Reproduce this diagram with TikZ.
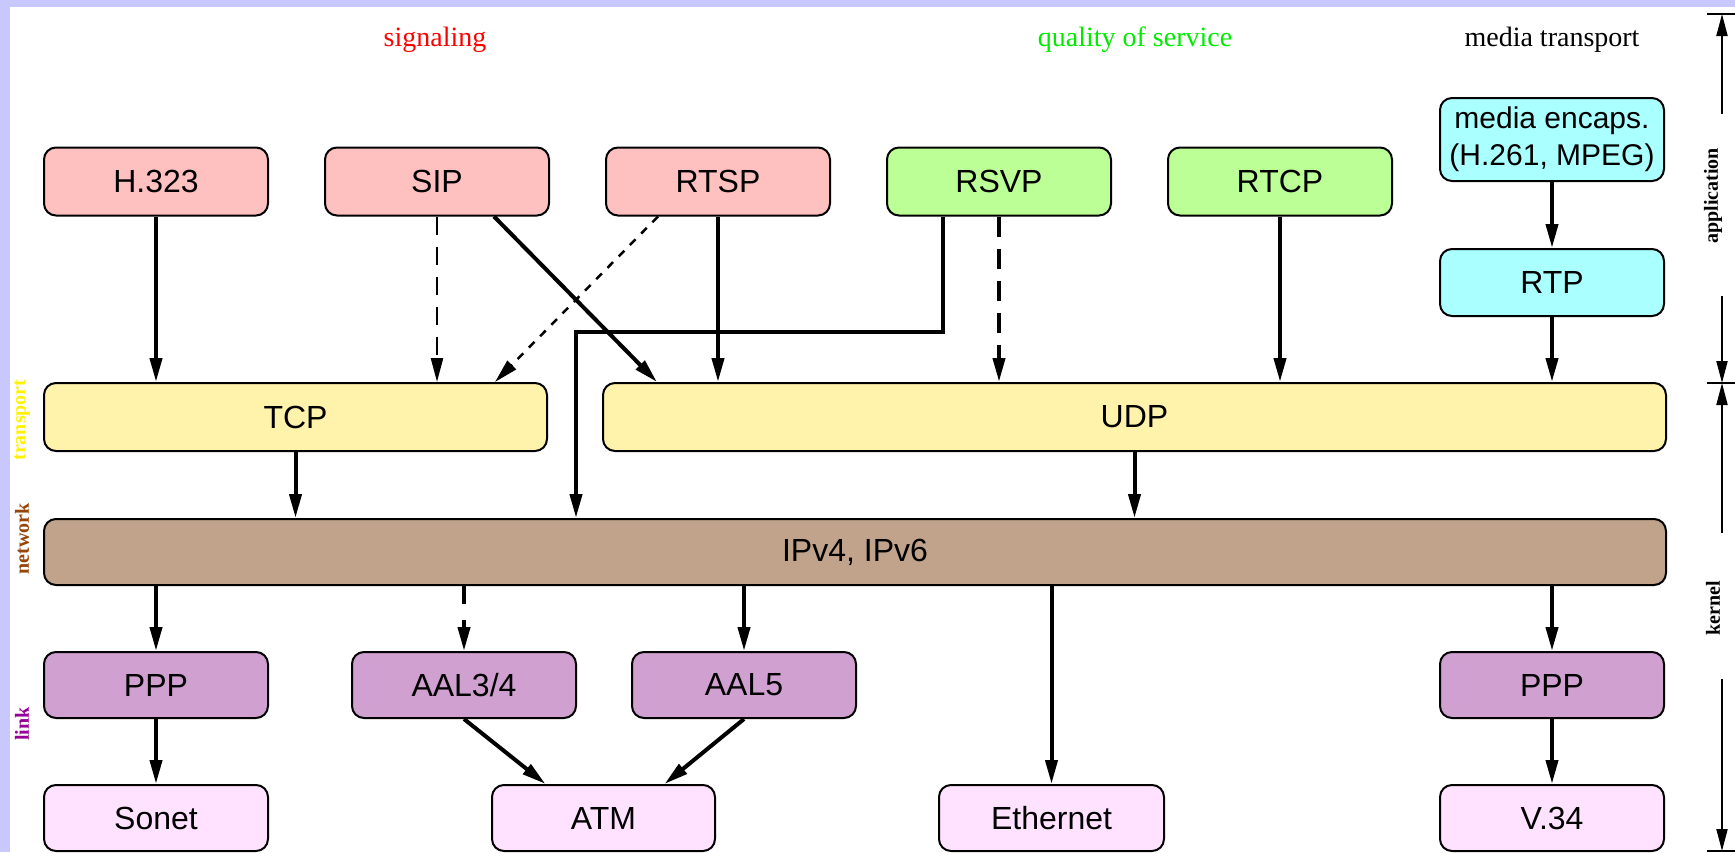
\documentclass[tikz,border=0pt]{standalone}
\usepackage{fontspec}
\setmainfont{Liberation Serif}
\setsansfont{Liberation Sans}
\usepackage{tikz}
\usetikzlibrary{arrows.meta,positioning}

\definecolor{sigfill}{RGB}{255,192,192}
\definecolor{qosfill}{RGB}{188,255,150}
\definecolor{mediafill}{RGB}{170,255,255}
\definecolor{transfill}{RGB}{255,242,170}
\definecolor{netfill}{RGB}{192,163,138}
\definecolor{linkfill}{RGB}{208,160,208}
\definecolor{physfill}{RGB}{255,226,255}
\definecolor{framelav}{RGB}{200,200,255}
\definecolor{nettext}{RGB}{150,70,10}
\definecolor{linktext}{RGB}{150,0,150}
\definecolor{qostext}{RGB}{0,235,0}

\tikzstyle{proto} = [rectangle, rounded corners=12pt, minimum width=224pt, minimum height=68pt, inner sep=0pt, align=center, draw=black, line width=2pt, font=\sffamily\fontsize{32}{37}\selectfont]
\tikzstyle{signal} = [proto, fill=sigfill]
\tikzstyle{qos} = [proto, fill=qosfill]
\tikzstyle{media} = [proto, fill=mediafill]
\tikzstyle{transp} = [proto, fill=transfill]
\tikzstyle{network} = [proto, fill=netfill]
\tikzstyle{linkl} = [proto, fill=linkfill]
\tikzstyle{phys} = [proto, fill=physfill]
\tikzset{
  arrow/.style={line width=4pt, -{Triangle[length=24pt,width=12pt]}},
  dasharrow/.style={arrow, dash pattern=on 20pt off 12pt},
  thindash/.style={line width=2.5pt, dash pattern=on 18pt off 12pt, -{Triangle[length=24pt,width=12pt]}},
  dotarrow/.style={line width=2.5pt, dash pattern=on 8pt off 8pt, -{Triangle[length=24pt,width=12pt]}},
  group/.style={font=\fontsize{28}{28}\selectfont},
  layer/.style={font=\bfseries\fontsize{20}{20}\selectfont, rotate=90},
  dimarrow/.style={line width=2pt, -{Triangle[length=22pt,width=11pt]}},
}

\begin{document}
\begin{tikzpicture}[x=1pt, y=-1pt, node distance=55pt]
\useasboundingbox (0,0) rectangle (1735,852);
\fill[framelav] (0,0) rectangle (1735,852);
\fill[white] (10,7) rectangle (1735,852);

% column headings
\node (hsig) [group, text=red] at (435,40) {signaling};
\node (hqos) [group, text=qostext] at (1135,40) {quality of service};
\node (hmed) [group] at (1552,40) {media transport};

% application row
\node (h323) [signal] at (156,181.5) {H.323};
\node (sip) [signal, right=of h323] {SIP};
\node (rtsp) [signal, right=of sip] {RTSP};
\node (rsvp) [qos, right=of rtsp] {RSVP};
\node (rtcp) [qos, right=of rsvp] {RTCP};
\node (encaps) [media, minimum height=83pt, font=\sffamily\fontsize{30}{37}\selectfont] at (1552,139.5) {media encaps.\\(H.261, MPEG)};
\node (rtp) [media, minimum height=67pt] at (1552,282.5) {RTP};

% transport, network
\node (tcp) [transp, minimum width=503pt] at (295.5,417) {TCP};
\node (udp) [transp, minimum width=1063pt] at (1134.5,417) {UDP};
\node (ip) [network, minimum width=1622pt, minimum height=66pt] at (855,552) {IPv4, IPv6};

% link, physical
\node (pppa) [linkl, minimum height=66pt] at (156,685) {PPP};
\node (aal34) [linkl, minimum height=66pt] at (464,685) {AAL3/4};
\node (aal5) [linkl, minimum height=66pt] at (744,685) {AAL5};
\node (pppb) [linkl, minimum height=66pt] at (1552,685) {PPP};
\node (sonet) [phys, minimum height=66pt] at (156,818) {Sonet};
\node (atm) [phys, minimum height=66pt, minimum width=223pt] at (603.5,818) {ATM};
\node (ether) [phys, minimum height=66pt, minimum width=225pt] at (1051.5,818) {Ethernet};
\node (vtf) [phys, minimum height=66pt] at (1552,818) {V.34};

% layer names
\node (ltrans) [layer, text=yellow] at (22,420) {transport};
\node (lnet) [layer, text=nettext] at (22,539) {network};
\node (llink) [layer, text=linktext] at (22,724) {link};

\draw [arrow] (h323.south) -- (h323.south |- tcp.north);
\draw [thindash] (sip.south) -- (sip.south |- tcp.north);
\draw [arrow] ([xshift=57pt]sip.south) -- ([xshift=55pt]udp.north west);
\draw [dotarrow] ([xshift=-60pt]rtsp.south) -- ([xshift=-53pt]tcp.north east);
\draw [arrow] (rtsp.south) -- (rtsp.south |- udp.north);
\coordinate (bend) at (576,332);
\draw [arrow] ([xshift=-56pt]rsvp.south) |- (bend) -- (bend |- ip.north);
\draw [dasharrow] (rsvp.south) -- (rsvp.south |- udp.north);
\draw [arrow] (rtcp.south) -- (rtcp.south |- udp.north);
\draw [arrow] (encaps) -- (rtp);
\draw [arrow] (rtp.south) -- (rtp.south |- udp.north);
\draw [arrow] (tcp.south) -- (tcp.south |- ip.north);
\draw [arrow] (udp.south) -- (udp.south |- ip.north);

\draw [arrow] (pppa.north |- ip.south) -- (pppa.north);
\draw [dasharrow, dash pattern=on 18pt off 16pt] (aal34.north |- ip.south) -- (aal34.north);
\draw [arrow] (aal5.north |- ip.south) -- (aal5.north);
\draw [arrow] (ether.north |- ip.south) -- (ether.north);
\draw [arrow] (pppb.north |- ip.south) -- (pppb.north);
\draw [arrow] (pppa) -- (sonet);
\draw [arrow] (aal34.south) -- ([xshift=-58pt]atm.north);
\draw [arrow] (aal5.south) -- ([xshift=61pt]atm.north);
\draw [arrow] (pppb) -- (vtf);

% dimension lines at the right
\coordinate (apptop) at (1722,14);
\coordinate (appmid) at (1722,383);
\coordinate (kerbot) at (1722,851);
\node (lapp) [layer] at (1713,196) {application};
\node (lker) [layer] at (1713,608) {kernel};
\draw [dimarrow] (1722,114) -- (apptop);
\draw [dimarrow] (1722,296) -- (appmid);
\draw [dimarrow] (1722,533) -- (appmid);
\draw [dimarrow] (1722,679) -- (kerbot);
\draw [line width=2pt] ([xshift=-15pt]apptop) -- ([xshift=13pt]apptop);
\draw [line width=2pt] ([xshift=-15pt]appmid) -- ([xshift=13pt]appmid);
\draw [line width=2pt] ([xshift=-15pt]kerbot) -- ([xshift=13pt]kerbot);
\end{tikzpicture}
\end{document}
